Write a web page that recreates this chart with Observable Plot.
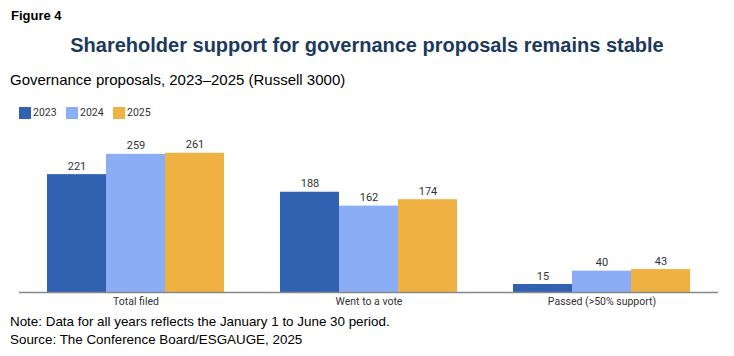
<!DOCTYPE html>
<html>
<head>
<meta charset="utf-8">
<script src="https://cdn.jsdelivr.net/npm/d3@7"></script>
<script src="https://cdn.jsdelivr.net/npm/@observablehq/plot@0.6"></script>
<style>
  html, body { margin: 0; padding: 0; background: #fff; }
  body { width: 734px; height: 356px; position: relative; overflow: hidden; font-family: "Liberation Sans", Arial, sans-serif; }
  #fig { position: absolute; left: 11px; top: 8px; font-size: 13px; font-weight: bold; color: #000; }
  #title { position: absolute; left: 0; width: 734px; top: 34px; text-align: center; font-size: 20px; font-weight: bold; color: #1b3a5e; }
  #sub { position: absolute; left: 10px; top: 71px; font-size: 15px; color: #000; }
  #legend { position: absolute; left: 19px; top: 106px; font-family: Roboto, sans-serif; font-size: 10.5px; color: #333; display: flex; align-items: center; }
  #legend span.sw { display: inline-block; width: 12px; height: 12px; margin-right: 2px; }
  #legend .item { display: flex; align-items: center; width: 47px; }
  #chart { position: absolute; left: 0; top: 122px; }
  #note { position: absolute; left: 10px; top: 313px; font-size: 13.4px; color: #000; line-height: 18px; }
</style>
</head>
<body>
<div id="fig">Figure 4</div>
<div id="title">Shareholder support for governance proposals remains stable</div>
<div id="sub">Governance proposals, 2023–2025 (Russell 3000)</div>
<div id="legend"></div>
<div id="chart"></div>
<div id="note">Note: Data for all years reflects the January 1 to June 30 period.<br>Source: The Conference Board/ESGAUGE, 2025</div>
<script>
const categories = ["Total filed", "Went to a vote", "Passed (>50% support)"];
const years = ["2023", "2024", "2025"];
const values2023 = [221, 188, 15];
const values2024 = [259, 162, 40];
const values2025 = [261, 174, 43];
const colors = ["#3162b1", "#8badf6", "#efb142"];

const series = [values2023, values2024, values2025];
const data = [];
categories.forEach((c, i) => years.forEach((y, j) => data.push({category: c, year: y, value: series[j][i]})));

const legend = document.getElementById("legend");
years.forEach((y, j) => {
  const it = document.createElement("div");
  it.className = "item";
  it.innerHTML = `<span class="sw" style="background:${colors[j]}"></span>${y}`;
  legend.appendChild(it);
});

const chart = Plot.plot({
  width: 734,
  height: 188,
  marginLeft: 19,
  marginRight: 16,
  marginTop: 10,
  marginBottom: 18,
  style: {fontFamily: "Roboto, sans-serif", fontSize: "10.5px", color: "#333", background: "transparent"},
  fx: {domain: categories, paddingInner: 0.23, paddingOuter: 0.115, axis: "bottom", label: null, tickSize: 0, tickPadding: 5},
  x: {domain: years, padding: 0, axis: null},
  y: {domain: [0, 300], axis: null},
  color: {domain: years, range: colors},
  marks: [
    Plot.barY(data, {fx: "category", x: "year", y: "value", fill: "year", inset: 0}),
    Plot.text(data, {fx: "category", x: "year", y: "value", text: d => String(d.value), dy: -5, lineAnchor: "bottom", fill: "#333", fontSize: 11}),
    Plot.ruleY([0], {stroke: "#888", strokeWidth: 1.5, insetLeft: -27, insetRight: -27})
  ]
});
document.getElementById("chart").appendChild(chart);
</script>
</body>
</html>
